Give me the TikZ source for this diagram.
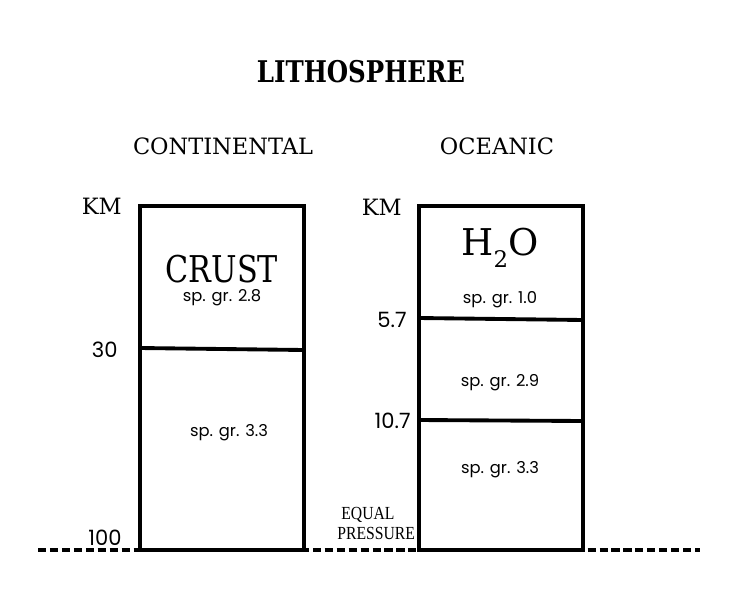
\documentclass[tikz,border=0pt]{standalone}
\usepackage{fontspec}
\setmainfont{DejaVu Serif}
\newfontfamily\titlefont[FakeStretch=0.82]{DejaVu Serif}
\newfontfamily\labelfont{Poppins}
\newfontfamily\notefont[FakeStretch=0.85]{Liberation Serif}
\usetikzlibrary{positioning}

\tikzset{
    column/.style={line width=2.2pt},
    layer/.style={line width=2.2pt},
    head/.style={font=\fontsize{12.8}{14}\selectfont},
    grav/.style={font=\labelfont\fontsize{9.3}{11}\selectfont},
    depth/.style={font=\labelfont\fontsize{12}{13}\selectfont, anchor=east, inner sep=0pt},
}

\begin{document}
\begin{tikzpicture}[x=0.02cm,y=-0.02cm]
        \useasboundingbox (0,0) rectangle (750,592);

        % titles
        \node[font=\titlefont\bfseries\fontsize{17}{20}\selectfont] (litho) at (361,72) {LITHOSPHERE};
        \node[head] (cont) at (223,146) {CONTINENTAL};
        \node[head] (ocean) at (497,146) {OCEANIC};

        % continental column
        \draw[column] (140,206) rectangle (304,550);
        \coordinate (c30l) at (140,348);
        \coordinate (c30r) at (304,350);
        \draw[layer] (c30l) -- (c30r);
        \node[head, anchor=east, inner sep=0pt] (kmc) at (122,206) {KM};
        \node[font=\titlefont\fontsize{21}{24}\selectfont] (crust) at (222,269) {CRUST};
        \node[grav] (g28) at (222,298) {sp. gr. 2.8};
        \node[grav] (g33c) at (229,433) {sp. gr. 3.3};
        \node[depth] (d30) at (118,350) {30};
        \node[depth] (d100) at (122,538) {100};

        % oceanic column
        \draw[column] (419,206) rectangle (583,550);
        \coordinate (o57l) at (419,318);
        \coordinate (o57r) at (583,320);
        \coordinate (o107l) at (419,420);
        \coordinate (o107r) at (583,421);
        \draw[layer] (o57l) -- (o57r);
        \draw[layer] (o107l) -- (o107r);
        \node[head, anchor=east, inner sep=0pt] (kmo) at (402,207) {KM};
        \node[font=\fontsize{21}{24}\selectfont] (water) at (500,248) {H\raisebox{-0.6ex}{\fontsize{13}{14}\selectfont 2}O};
        \node[grav] (g10) at (500,300) {sp. gr. 1.0};
        \node[grav] (g29) at (500,383) {sp. gr. 2.9};
        \node[grav] (g33o) at (500,470) {sp. gr. 3.3};
        \node[depth] (d57) at (407,320) {5.7};
        \node[depth] (d107) at (411,421) {10.7};

        % base line
        \coordinate (baseW) at (38,550);
        \coordinate (baseE) at (700,550);
        \draw[line width=2.2pt, dash pattern=on 4.6pt off 2.2pt] (baseW) -- (baseE);
        \node[font=\notefont\fontsize{10.5}{12}\selectfont, anchor=west, inner sep=0pt] (equal) at (341,515) {EQUAL};
        \node[font=\notefont\fontsize{10.5}{12}\selectfont, anchor=west, inner sep=0pt] (press) at (337,533) {PRESSURE};
\end{tikzpicture}
\end{document}
